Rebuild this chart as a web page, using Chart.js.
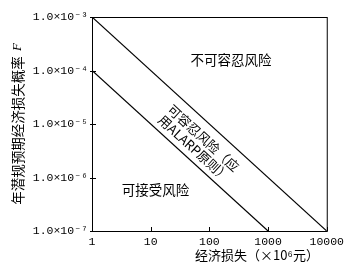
<!DOCTYPE html>
<html>
<head>
<meta charset="utf-8">
<script src="https://cdn.jsdelivr.net/npm/chart.js@4"></script>
<style>
  html, body { margin: 0; padding: 0; background: #fff; }
</style>
</head>
<body>
<canvas id="chart" width="348" height="263"></canvas>
<script>
// axis ticks (log scales)
const xTicks = [1, 10, 100, 1000, 10000];
const xTickLabels = ['1', '10', '100', '1000', '10000'];
const yTicks = [1e-7, 1e-6, 1e-5, 1e-4, 1e-3];
const yTickLabels = ['1.0×10⁻⁷', '1.0×10⁻⁶', '1.0×10⁻⁵', '1.0×10⁻⁴', '1.0×10⁻³'];

// boundary lines
const upperLoss = [1, 10000];
const upperProb = [1e-3, 1e-7];
const lowerLoss = [1, 1000];
const lowerProb = [1e-4, 1e-7];

const toPoints = (xs, ys) => xs.map((x, i) => ({ x: x, y: ys[i] }));

const cjk = '"Noto Sans CJK SC", sans-serif';
const serif = '"Liberation Serif", "DejaVu Serif", serif';
const mono = '"Liberation Mono", "DejaVu Sans Mono", monospace';

// box, inner ticks, titles and region labels
const decor = {
  id: 'decor',
  afterDraw(chart) {
    const ctx = chart.ctx;
    const a = chart.chartArea;
    const xs = chart.scales.x, ys = chart.scales.y;
    ctx.save();
    ctx.strokeStyle = '#000';
    ctx.lineWidth = 1;
    ctx.strokeRect(a.left + 0.5, a.top + 0.5, a.right - a.left, a.bottom - a.top);

    ctx.beginPath();
    xTicks.forEach(v => {
      const px = Math.round(xs.getPixelForValue(v)) + 0.5;
      ctx.moveTo(px, a.bottom);
      ctx.lineTo(px, a.bottom - 4);
    });
    yTicks.forEach(v => {
      const py = Math.round(ys.getPixelForValue(v)) + 0.5;
      ctx.moveTo(a.left - 2, py);
      ctx.lineTo(a.left + 4, py);
    });
    ctx.stroke();

    ctx.fillStyle = '#000';
    ctx.textAlign = 'center';
    ctx.textBaseline = 'middle';
    const w = a.right - a.left, h = a.bottom - a.top;

    ctx.font = '13.5px ' + cjk;
    ctx.fillText('不可容忍风险', a.left + w * 0.592, a.top + h * 0.20);
    ctx.fillText('可接受风险', a.left + w * 0.27, a.top + h * 0.81);

    // tolerable band label, rotated along the lines
    const ang = Math.atan2(h, w);
    ctx.save();
    ctx.translate(a.left + w * 0.455, a.top + h * 0.59);
    ctx.rotate(ang);
    ctx.font = '13px ' + cjk;
    ctx.fillText('可容忍风险（应', 0, -7);
    ctx.fillText('用ALARP原则）', 0, 7);
    ctx.restore();

    // x title
    ctx.font = '13px ' + cjk;
    ctx.fillText('经济损失（×10⁶元）', 257, 255);

    // y title
    ctx.save();
    ctx.translate(18, (a.top + a.bottom) / 2);
    ctx.rotate(-Math.PI / 2);
    ctx.font = '13.5px ' + cjk;
    ctx.fillText('年潜规预期经济损失概率 ', -5, 0);
    ctx.font = 'italic 13px ' + serif;
    ctx.fillText('F', 77, 0);
    ctx.restore();
    ctx.restore();
  }
};

const ctx = document.getElementById('chart').getContext('2d');
new Chart(ctx, {
  type: 'scatter',
  data: {
    datasets: [
      { data: toPoints(upperLoss, upperProb) },
      { data: toPoints(lowerLoss, lowerProb) }
    ].map(d => Object.assign(d, {
      showLine: true,
      borderColor: '#000',
      borderWidth: 1.2,
      pointRadius: 0,
      fill: false
    }))
  },
  options: {
    responsive: false,
    animation: false,
    layout: { padding: { top: 17, right: 20, left: 0, bottom: 0 } },
    plugins: { legend: { display: false }, tooltip: { enabled: false } },
    scales: {
      x: {
        type: 'logarithmic',
        min: 1,
        max: 10000,
        afterBuildTicks: s => { s.ticks = xTicks.map(v => ({ value: v })); },
        afterFit: s => { s.height = 32; },
        grid: { display: false, drawTicks: false },
        border: { display: false },
        ticks: {
          autoSkip: false,
          maxRotation: 0,
          padding: 4,
          color: '#000',
          font: { family: mono, size: 11.5 },
          callback: (v, i) => xTickLabels[i]
        }
      },
      y: {
        type: 'logarithmic',
        min: 1e-7,
        max: 1e-3,
        afterBuildTicks: s => { s.ticks = yTicks.map(v => ({ value: v })); },
        afterFit: s => { s.width = 92; },
        grid: { display: false, drawTicks: false },
        border: { display: false },
        ticks: {
          autoSkip: false,
          padding: 4,
          color: '#000',
          font: { family: mono, size: 11.5 },
          callback: (v, i) => yTickLabels[i]
        }
      }
    }
  },
  plugins: [decor]
});
</script>
</body>
</html>
